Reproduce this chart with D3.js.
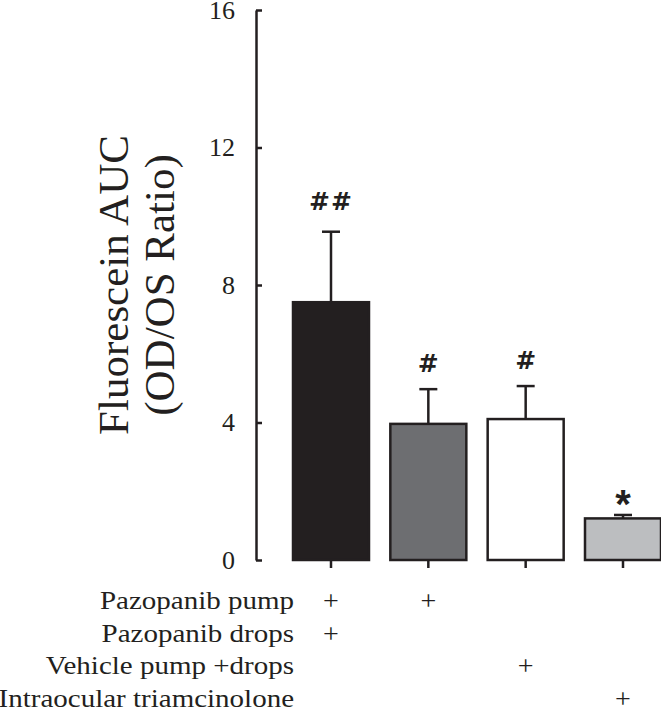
<!DOCTYPE html>
<html>
    <head>
        <meta charset="utf-8">
        <title>Fluorescein AUC</title>
        <script src="https://d3js.org/d3.v7.min.js"></script>
        <style>
            body { margin: 0; background: #fff; }
            text { font-family: "Liberation Serif", "Times New Roman", serif; fill: #231f20; }
            .mark { font-weight: bold; }
        </style>
    </head>
    <body>
        <svg id="chart" width="661" height="710"></svg>

        <script>
            // data
            var groups = ["A", "B", "C", "D"];
            var means = [7.5, 3.96, 4.1, 1.21];
            var sems = [2.05, 1.01, 0.96, 0.1];
            var marks = ["##", "#", "#", "*"];
            var yTicks = [0, 4, 8, 12, 16];
            var treatments = ["Pazopanib pump", "Pazopanib drops", "Vehicle pump +drops", "Intraocular triamcinolone"];
            // which group got which treatment (one row per treatment)
            var given = [
                [1, 1, 0, 0],
                [1, 0, 0, 0],
                [0, 0, 1, 0],
                [0, 0, 0, 1]
            ];
            var barColors = ["#231f20", "#6d6e71", "#ffffff", "#bcbec0"];

            var ink = "#231f20";
            var svg = d3.select("#chart");

            var y = d3.scaleLinear().domain([0, 16]).range([560, 10]);
            var x = d3.scalePoint().domain(groups).range([331, 623]);
            var barW = 76;
            var rowY = d3.scalePoint().domain(treatments).range([609, 707]);

            // y axis, ticks pointing inward
            var yAxis = d3.axisLeft(y)
                .tickValues(yTicks)
                .tickSizeInner(-6)
                .tickSizeOuter(0)
                .tickPadding(21);
            var gy = svg.append("g")
                .attr("transform", "translate(256,0)")
                .call(yAxis);
            gy.select(".domain").attr("stroke", ink).attr("stroke-width", 2.5);
            gy.selectAll(".tick line").attr("stroke", ink).attr("stroke-width", 2.5);
            gy.selectAll(".tick text")
                .attr("fill", ink)
                .style("font-family", "'Liberation Serif', serif")
                .style("font-size", "26px");

            // y title, two lines
            var title = svg.append("g")
                .attr("transform", "translate(0,285) rotate(-90)");
            title.append("text")
                .attr("x", 0).attr("y", 128)
                .attr("text-anchor", "middle")
                .style("font-size", "43px")
                .text("Fluorescein AUC");
            title.append("text")
                .attr("x", 0).attr("y", 174)
                .attr("text-anchor", "middle")
                .style("font-size", "43px")
                .text("(OD/OS Ratio)");

            // bars
            var idx = d3.range(groups.length);
            svg.selectAll("rect.bar")
                .data(idx)
                .enter().append("rect")
                .attr("class", "bar")
                .attr("x", function(i) { return x(groups[i]) - barW / 2; })
                .attr("y", function(i) { return y(means[i]); })
                .attr("width", barW)
                .attr("height", function(i) { return y(0) - y(means[i]); })
                .attr("fill", function(i) { return barColors[i]; })
                .attr("stroke", ink)
                .attr("stroke-width", 2.5);

            // little ticks below each bar
            svg.selectAll("line.xtick")
                .data(idx)
                .enter().append("line")
                .attr("x1", function(i) { return x(groups[i]); })
                .attr("x2", function(i) { return x(groups[i]); })
                .attr("y1", y(0))
                .attr("y2", y(0) + 8)
                .attr("stroke", ink)
                .attr("stroke-width", 2.5);

            // error bars (upper only)
            svg.selectAll("line.err")
                .data(idx)
                .enter().append("line")
                .attr("x1", function(i) { return x(groups[i]); })
                .attr("x2", function(i) { return x(groups[i]); })
                .attr("y1", function(i) { return y(means[i]); })
                .attr("y2", function(i) { return y(means[i] + sems[i]); })
                .attr("stroke", ink)
                .attr("stroke-width", 2.5);
            svg.selectAll("line.cap")
                .data(idx)
                .enter().append("line")
                .attr("x1", function(i) { return x(groups[i]) - 9; })
                .attr("x2", function(i) { return x(groups[i]) + 9; })
                .attr("y1", function(i) { return y(means[i] + sems[i]); })
                .attr("y2", function(i) { return y(means[i] + sems[i]); })
                .attr("stroke", ink)
                .attr("stroke-width", 2.5);

            // significance marks
            svg.selectAll("text.mark")
                .data(idx)
                .enter().append("text")
                .attr("class", "mark")
                .attr("x", function(i) { return x(groups[i]); })
                .attr("y", function(i) {
                    var top = y(means[i] + sems[i]);
                    if (marks[i] == "*") return top + 3;
                    if (marks[i] == "##") return top - 22;
                    return top - 17;
                })
                .attr("text-anchor", "middle")
                .style("font-family", function(i) {
                    return marks[i] == "*" ? "'Liberation Sans', sans-serif" : "'DejaVu Sans', sans-serif";
                })
                .style("font-size", function(i) { return marks[i] == "*" ? "40px" : "25px"; })
                .style("letter-spacing", function(i) { return marks[i] == "##" ? "1px" : "0px"; })
                .text(function(i) { return marks[i]; });

            // treatment table under the axis
            treatments.forEach(function(t, r) {
                svg.append("text")
                    .attr("transform", "translate(294," + rowY(t) + ") scale(1.16,1)")
                    .attr("text-anchor", "end")
                    .style("font-size", "25px")
                    .text(t);
                given[r].forEach(function(g, c) {
                    if (!g) return;
                    svg.append("text")
                        .attr("x", x(groups[c]))
                        .attr("y", rowY(t) + 1)
                        .attr("text-anchor", "middle")
                        .style("font-size", "28px")
                        .text("+");
                });
            });
        </script>
    </body>
</html>
